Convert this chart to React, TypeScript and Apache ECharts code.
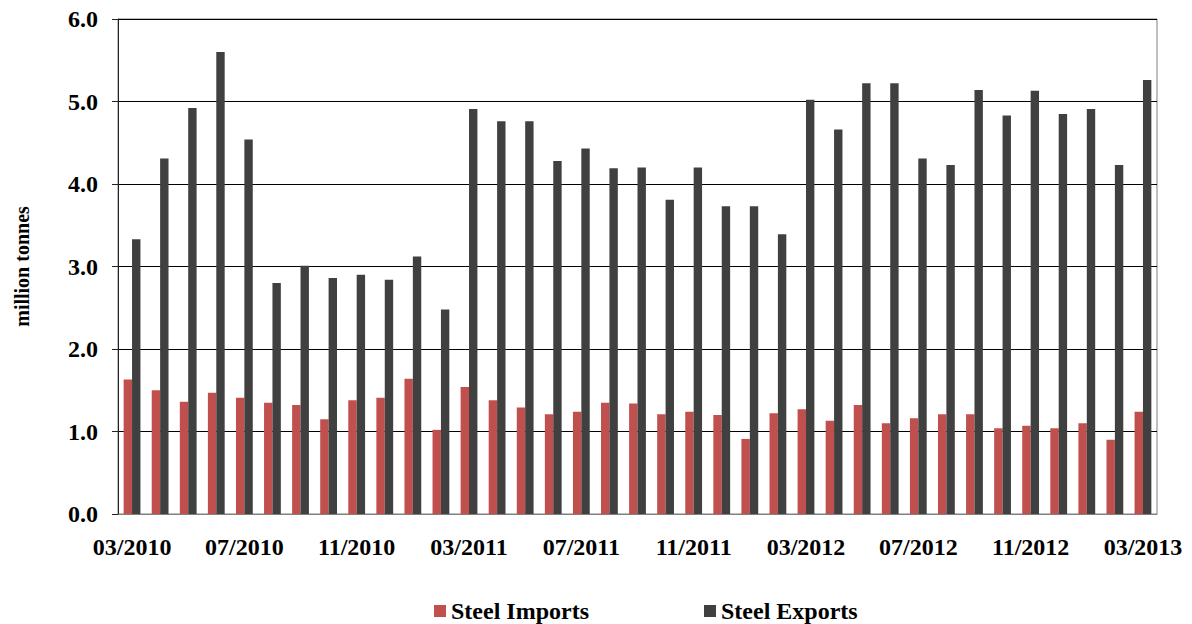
import React, { useEffect, useRef } from "react";
import * as echarts from "echarts";

// Monthly steel trade, March 2010 – March 2013 (million tonnes)
const months: string[] = [
  "03/2010", "04/2010", "05/2010", "06/2010", "07/2010", "08/2010", "09/2010", "10/2010",
  "11/2010", "12/2010", "01/2011", "02/2011", "03/2011", "04/2011", "05/2011", "06/2011",
  "07/2011", "08/2011", "09/2011", "10/2011", "11/2011", "12/2011", "01/2012", "02/2012",
  "03/2012", "04/2012", "05/2012", "06/2012", "07/2012", "08/2012", "09/2012", "10/2012",
  "11/2012", "12/2012", "01/2013", "02/2013", "03/2013",
];

const steelImports: number[] = [
  1.63, 1.5, 1.36, 1.47, 1.41, 1.35, 1.32, 1.15, 1.38, 1.41, 1.64, 1.02, 1.54, 1.38, 1.29,
  1.21, 1.24, 1.35, 1.34, 1.21, 1.24, 1.2, 0.91, 1.22, 1.27, 1.13, 1.32, 1.1, 1.16, 1.21,
  1.21, 1.04, 1.07, 1.04, 1.1, 0.9, 1.24,
];

const steelExports: number[] = [
  3.33, 4.31, 4.92, 5.6, 4.54, 2.8, 3.01, 2.86, 2.9, 2.84, 3.12, 2.48, 4.91, 4.76, 4.76,
  4.28, 4.43, 4.19, 4.2, 3.81, 4.2, 3.73, 3.73, 3.39, 5.02, 4.66, 5.22, 5.22, 4.31, 4.23,
  5.14, 4.83, 5.13, 4.85, 4.91, 4.23, 5.26,
];

const FONT = "'Liberation Serif', 'Times New Roman', serif";

export default function App() {
  const ref = useRef<HTMLDivElement>(null);

  useEffect(() => {
    if (!ref.current) return;
    const chart = echarts.init(ref.current, undefined, { renderer: "svg" });

    const legendText = {
      fontFamily: FONT,
      fontWeight: "bold" as const,
      fontSize: 24,
      color: "#000",
    };

    chart.setOption({
      animation: false,
      backgroundColor: "#fff",
      grid: {
        left: 118,
        right: 35,
        top: 19,
        bottom: 110,
        show: true,
        borderColor: "#808080",
        borderWidth: 1,
        containLabel: false,
      },
      legend: [
        {
          data: ["Steel Imports"],
          left: 429,
          top: 594,
          icon: "rect",
          itemWidth: 12,
          itemHeight: 12,
          textStyle: legendText,
        },
        {
          data: ["Steel Exports"],
          left: 699,
          top: 594,
          icon: "rect",
          itemWidth: 12,
          itemHeight: 12,
          textStyle: legendText,
        },
      ],
      xAxis: {
        type: "category",
        data: months,
        axisLine: { show: true, lineStyle: { color: "#808080", width: 1 } },
        axisTick: { show: false },
        axisLabel: {
          interval: 3,
          margin: 21,
          fontFamily: FONT,
          fontWeight: "bold",
          fontSize: 24,
          color: "#000",
        },
      },
      yAxis: {
        type: "value",
        min: 0,
        max: 6,
        interval: 1,
        name: "million tonnes",
        nameLocation: "middle",
        nameGap: 86,
        nameRotate: 90,
        nameTextStyle: {
          fontFamily: FONT,
          fontWeight: "bold",
          fontSize: 20,
          color: "#000",
        },
        axisLine: { show: true, lineStyle: { color: "#222", width: 1 } },
        axisTick: { show: true, length: 6, lineStyle: { color: "#222" } },
        splitLine: { show: true, lineStyle: { color: "#000", width: 1 } },
        axisLabel: {
          margin: 20,
          formatter: (v: number) => v.toFixed(1),
          fontFamily: FONT,
          fontWeight: "bold",
          fontSize: 24,
          color: "#000",
        },
      },
      series: [
        {
          name: "Steel Imports",
          type: "bar",
          data: steelImports,
          barWidth: 8.4,
          barGap: "0%",
          itemStyle: { color: "#C0504D" },
        },
        {
          name: "Steel Exports",
          type: "bar",
          data: steelExports,
          barWidth: 8.4,
          barGap: "0%",
          itemStyle: { color: "#404040" },
        },
      ],
    });

    return () => chart.dispose();
  }, []);

  return (
    <div
      ref={ref}
      style={{ position: "absolute", left: 0, top: 0, width: 1192, height: 624 }}
    />
  );
}
